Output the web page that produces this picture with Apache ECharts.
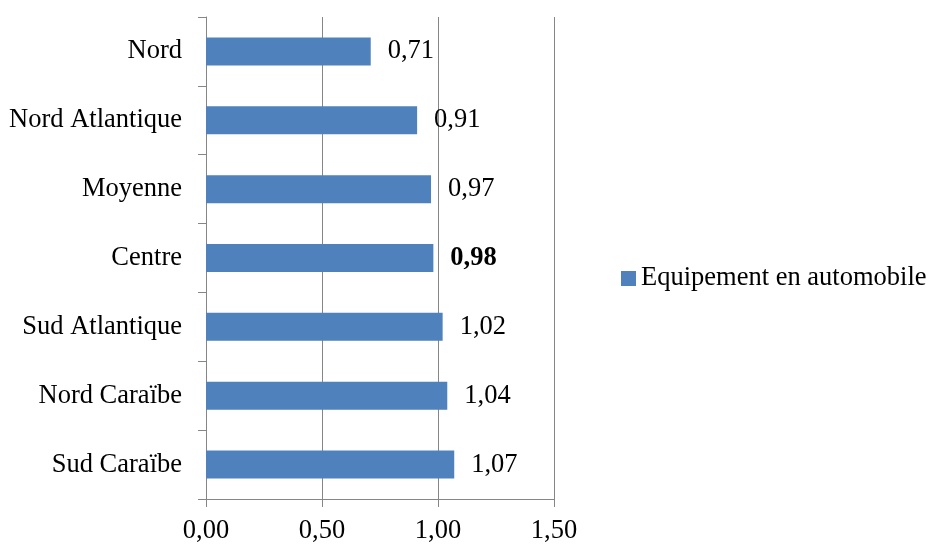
<!DOCTYPE html>
<html>
<head>
<meta charset="utf-8">
<script src="https://cdn.jsdelivr.net/npm/echarts@6/dist/echarts.min.js"></script>
<style>
  html, body { margin: 0; padding: 0; background: #ffffff; }
  #chart { width: 928px; height: 545px; }
</style>
</head>
<body>
<div id="chart"></div>
<script>
// Regions, listed top to bottom
const regions = ['Nord', 'Nord Atlantique', 'Moyenne', 'Centre', 'Sud Atlantique', 'Nord Caraïbe', 'Sud Caraïbe'];
// Car ownership index per region
const carOwnership = [0.71, 0.91, 0.97, 0.98, 1.02, 1.04, 1.07];
const seriesName = 'Equipement en automobile';
const highlighted = 'Centre';

// Value axis range
const xMin = 0, xMax = 1.5, xStep = 0.5;

const fmt = v => Number(v).toFixed(2).replace('.', ',');
const FONT = '"Liberation Serif", "Times New Roman", serif';
const FS = 26.5;
const GREY = '#868686';

const chart = echarts.init(document.getElementById('chart'), null, { renderer: 'canvas' });

chart.setOption({
  animation: false,
  backgroundColor: '#ffffff',
  textStyle: { fontFamily: FONT, color: '#000000' },
  grid: { left: 206, right: 374, top: 17, bottom: 45, containLabel: false },
  legend: {
    data: [seriesName],
    left: 621,
    top: 265,
    padding: 0,
    itemWidth: 15,
    itemHeight: 15,
    icon: 'rect',
    textStyle: { fontFamily: FONT, fontSize: FS, color: '#000000' }
  },
  xAxis: {
    type: 'value',
    min: xMin,
    max: xMax,
    interval: xStep,
    axisLine: { show: true, lineStyle: { color: GREY, width: 1 } },
    axisTick: { show: true, length: 8, lineStyle: { color: GREY } },
    splitLine: { show: true, lineStyle: { color: GREY, width: 1 } },
    axisLabel: {
      margin: 19,
      fontFamily: FONT,
      fontSize: FS,
      color: '#000000',
      formatter: fmt
    }
  },
  yAxis: {
    type: 'category',
    inverse: true,
    data: regions,
    axisLine: { show: true, lineStyle: { color: GREY, width: 1 } },
    axisTick: { show: true, length: 8, alignWithLabel: false, lineStyle: { color: GREY } },
    axisLabel: {
      margin: 24,
      padding: [4, 0, 0, 0],
      fontFamily: FONT,
      fontSize: FS,
      color: '#000000'
    }
  },
  series: [{
    name: seriesName,
    type: 'bar',
    barWidth: 28,
    itemStyle: { color: '#4F81BD' },
    data: carOwnership.map((v, i) => ({
      value: v,
      label: regions[i] === highlighted ? { fontWeight: 'bold' } : undefined
    })),
    label: {
      show: true,
      position: 'right',
      distance: 17,
      padding: [4, 0, 0, 0],
      fontFamily: FONT,
      fontSize: FS,
      color: '#000000',
      formatter: p => fmt(p.value)
    }
  }]
});
</script>
</body>
</html>
